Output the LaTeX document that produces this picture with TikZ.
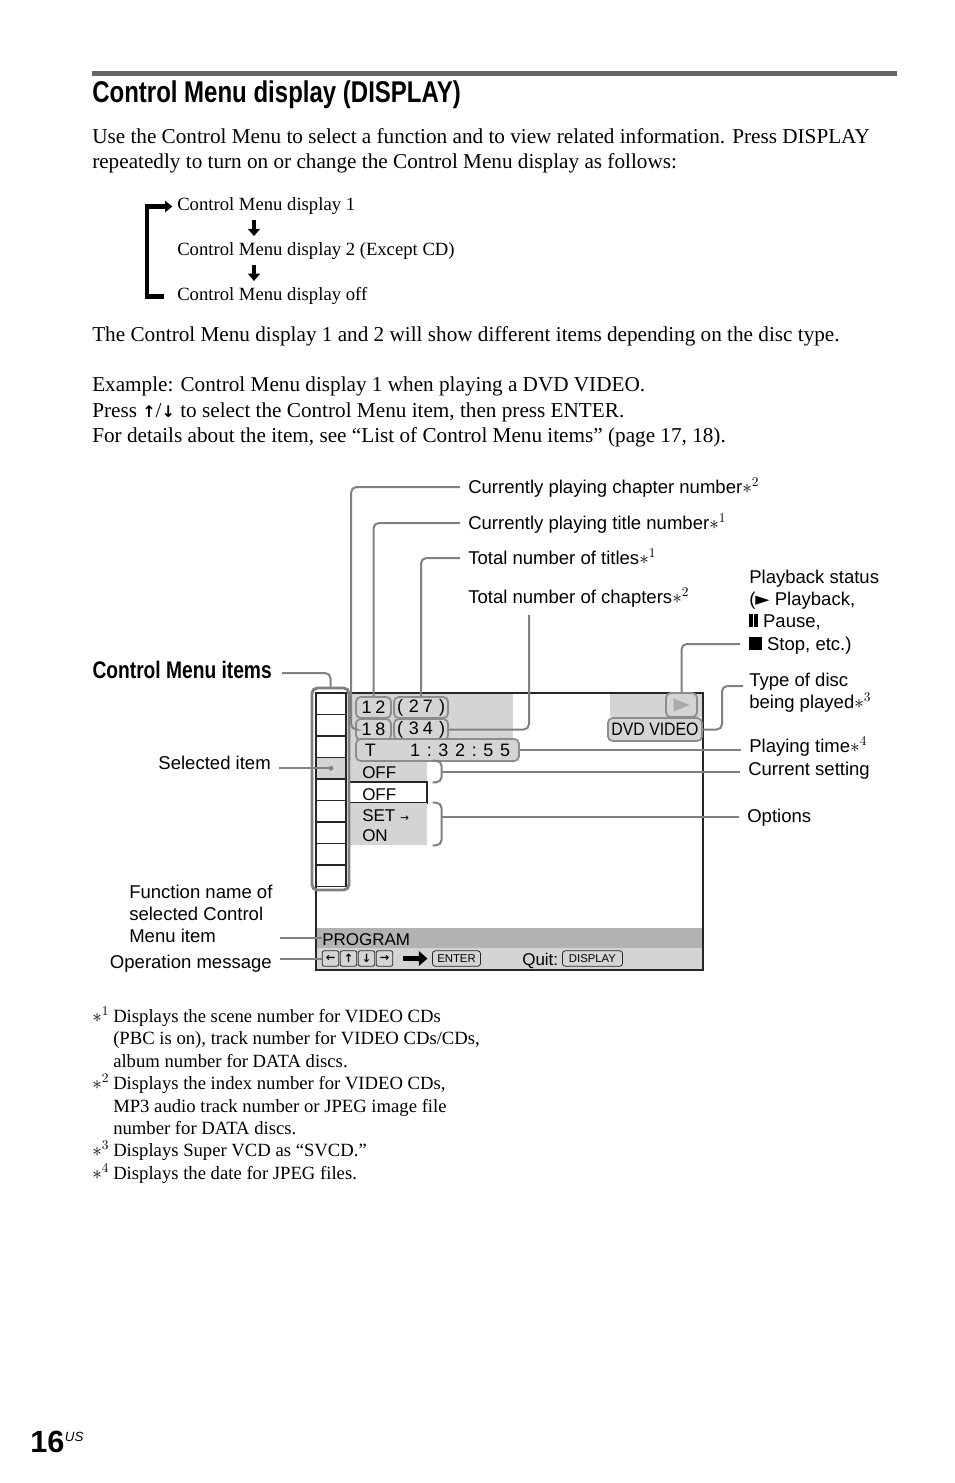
\documentclass[tikz,border=0pt]{standalone}
\usepackage{fontspec}
\setmainfont{Liberation Serif}
\newfontfamily\sansfam{Liberation Sans}
\newfontfamily\condbold[FakeStretch=0.8]{Liberation Sans Bold}
\newfontfamily\symfam{DejaVu Sans}
\usetikzlibrary{arrows.meta, positioning, fit}

\definecolor{rulegray}{RGB}{100,100,100}
\definecolor{linegray}{RGB}{128,128,128}
\definecolor{lcdgray}{RGB}{212,212,212}
\definecolor{bargray}{RGB}{178,178,178}
\definecolor{boxedge}{RGB}{140,140,140}
\definecolor{trigray}{RGB}{170,170,170}

\tikzset{
    heading/.style={anchor=base west, inner sep=0pt, font=\condbold\fontsize{22.5}{26}\selectfont},
    itemhead/.style={anchor=base east, inner sep=0pt, font=\condbold\fontsize{18}{21}\selectfont},
    bodytext/.style={anchor=base west, inner sep=0pt, font=\fontsize{15.9}{19}\selectfont},
    steptext/.style={anchor=base west, inner sep=0pt, font=\fontsize{14}{17}\selectfont},
    notetext/.style={anchor=base west, inner sep=0pt, font=\fontsize{14}{17}\selectfont},
    labeltext/.style={anchor=base west, inner sep=0pt, font=\sansfam\fontsize{13.9}{16.5}\selectfont},
    lcdtext/.style={anchor=base west, inner sep=0pt, font=\sansfam\fontsize{12.75}{15}\selectfont},
    readtext/.style={anchor=center, inner sep=0pt, font=\sansfam\fontsize{13.5}{15}\selectfont},
    lcdarea/.style={fill=lcdgray, draw=none, inner sep=0pt},
    bararea/.style={fill=bargray, draw=none, inner sep=0pt},
    setbox/.style={fill=white, draw=black!85, line width=0.8pt, inner sep=0pt},
    screenframe/.style={draw=black!85, line width=1.5pt, inner sep=0pt},
    cellline/.style={draw=black!85, line width=0.8pt},
    colframe/.style={draw=linegray, line width=2.2pt, rounded corners=4pt, inner sep=0pt},
    readout/.style={draw=boxedge, fill=lcdgray, line width=1.3pt, rounded corners=3.5pt, inner sep=0pt},
    keycap/.style={draw=black!85, line width=0.6pt, rounded corners=1.5pt, inner sep=0pt, minimum width=12.5pt, minimum height=11.5pt, font=\symfam\bfseries\fontsize{8.5}{8.5}\selectfont},
    keywide/.style={draw=black!85, line width=0.6pt, rounded corners=2pt, inner sep=0pt, minimum height=11.5pt, font=\sansfam\fontsize{8.5}{9}\selectfont},
    seldot/.style={circle, fill=linegray, inner sep=0pt, minimum size=3.5pt},
    callout/.style={draw=linegray, line width=1.5pt, rounded corners=4pt},
    flowarrow/.style={line width=3pt, -{Triangle[length=5.5pt, width=9pt]}, shorten <=3.5pt, shorten >=5pt},
    cycleline/.style={line width=3.6pt, -{Triangle[length=5.5pt, width=8.5pt]}, shorten >=3.5pt},
    bigarrow/.style={line width=3.2pt, -{Triangle[length=6.5pt, width=11pt]}, shorten <=7.5pt, shorten >=3.5pt},
}

\begin{document}
\begin{tikzpicture}[x=0.75pt, y=-0.75pt]
\useasboundingbox (0,0) rectangle (954,1483);

% heading
\fill[rulegray] (92,71) rectangle (897,76);
\node[heading] (title) at (92,103) {Control Menu display (DISPLAY)};

% intro text
\node[bodytext] (intro1) at (92,144) {Use the Control Menu to select a function and to view related information. Press DISPLAY};
\node[bodytext] (intro2) at (92,169) {repeatedly to turn on or change the Control Menu display as follows:};

% display cycle
\node[steptext] (d1) at (177,211) {Control Menu display 1};
\node[steptext] (d2) at (177,256) {Control Menu display 2 (Except CD)};
\node[steptext] (dOff) at (177,301) {Control Menu display off};
\coordinate (arrX) at (254,0);
\draw[flowarrow] (d1.south -| arrX) -- (d2.north -| arrX);
\draw[flowarrow] (d2.south -| arrX) -- (dOff.north -| arrX);
\draw[cycleline] (dOff.west) ++(-13,0) -- ++(-17,0) |- (d1.west);

% text
\node[bodytext] (discnote) at (92,342) {The Control Menu display 1 and 2 will show different items depending on the disc type.};
\node[bodytext] (ex1) at (92,392) {Example: Control Menu display 1 when playing a DVD VIDEO.};
\node[bodytext] (ex2) at (92,417) {Press {\symfam\bfseries\fontsize{12}{12}\selectfont ↑}/{\symfam\bfseries\fontsize{12}{12}\selectfont ↓} to select the Control Menu item, then press ENTER.};
\node[bodytext] (ex3) at (92,442) {For details about the item, see “List of Control Menu items” (page 17, 18).};

% screen areas
\node[lcdarea, fit={(350,693)(513,761)}] (topArea) {};
\node[lcdarea, fit={(350,761)(427,782)}] (curRow) {};
\node[setbox, fit={(349,782)(427,803)}] (setRow) {};
\node[lcdarea, fit={(350,803)(427,845)}] (optRow) {};
\node[lcdarea, fit={(610,693)(703,717)}] (rightArea) {};
\node[bararea, fit={(316,928)(703,948)}] (progBar) {};
\node[lcdarea, fit={(316,948)(703,970)}] (opBar) {};
\node[screenframe, fit={(316,693)(703,970)}] (screen) {};

% control menu item column
\node[lcdarea, fit={(316,757.5)(346,779)}] (selCell) {};
\foreach \i in {0,...,8}
    \draw[cellline] (316,{693+21.5*\i}) rectangle ++(30,21.5);
\node[seldot] (selDot) at (selCell.center) {};
\node[colframe, fit={(312,688)(349,890)}] (itemCol) {};

% readouts
\node[readout, fit={(356,697)(391,718)}] (rdTitleNo) {};
\node[readout, fit={(394,697)(448,718)}] (rdTitleTot) {};
\node[readout, fit={(356,719)(391,740)}] (rdChapNo) {};
\node[readout, fit={(394,719)(448,740)}] (rdChapTot) {};
\node[readout, fit={(356,739)(519,761)}] (rdTime) {};
\node[readout, fit={(666,693)(697,717)}] (rdPlay) {};
\node[readout, fit={(608,718)(702,741)}] (rdDisc) {};
\node[readtext] (txtTitleNo) at (rdTitleNo.center) {\makebox[18pt]{1\hfill 2}};
\node[readtext] (txtTitleTot) at (rdTitleTot.center) {\makebox[36pt]{(\hfill 2\hspace{3pt}7\hfill)}};
\node[readtext] (txtChapNo) at (rdChapNo.center) {\makebox[18pt]{1\hfill 8}};
\node[readtext] (txtChapTot) at (rdChapTot.center) {\makebox[36pt]{(\hfill 3\hspace{3pt}4\hfill)}};
\node[readtext] (txtTime) at (rdTime.center) {\makebox[109pt]{T\hfill 1\hspace{5pt}:\hspace{5pt}3\hspace{5pt}2\hspace{5pt}:\hspace{5pt}5\hspace{5pt}5}};
\node[readtext] (txtDisc) at (rdDisc.center) {\scalebox{0.88}[1]{DVD VIDEO}};
\fill[trigray] (rdPlay.center) ++(-8,-6.5) -- ++(0,13) -- ++(16,-6.5) -- cycle;

% settings
\node[lcdtext] (curTxt) at (362,778) {OFF};
\node[lcdtext] (setTxt) at (362,800) {OFF};
\node[lcdtext] (optSet) at (362,821) {SET {\symfam\fontsize{8}{8}\selectfont →}};
\node[lcdtext] (optOn) at (362,841) {ON};

% bottom bars
\node[lcdtext] (progTxt) at (322,945) {PROGRAM};
\foreach \s [count=\k] in {←,↑,↓,→}
    \node[keycap] (btn\k) at ({322+18*(\k-1)+8.5},958.5) {\s};
\node[keywide, minimum width=36pt] (enterKey) at (456.5,958.5) {ENTER};
\draw[bigarrow] (btn4.east) -- (enterKey.west);
\node[lcdtext] (quitTxt) at (522,965) {Quit:};
\node[keywide, minimum width=45pt] (dispKey) at (592.5,958.5) {DISPLAY};

% labels on the right
\node[labeltext] (lChapNo) at (468,493) {Currently playing chapter number$\ast^{2}$};
\node[labeltext] (lTitleNo) at (468,529) {Currently playing title number$\ast^{1}$};
\node[labeltext] (lTitleTot) at (468,564) {Total number of titles$\ast^{1}$};
\node[labeltext] (lChapTot) at (468,603) {Total number of chapters$\ast^{2}$};
\node[labeltext] (lStatus) at (749,583) {Playback status};
\node[labeltext] (lPlay) at (749,605) {({\symfam ►} Playback,};
\node[labeltext] (lPause) at (749,627) {\rule{2.6pt}{9.5pt}\hspace{1.3pt}\rule{2.6pt}{9.5pt} Pause,};
\node[labeltext] (lStop) at (749,650) {\rule{9.5pt}{9.5pt} Stop, etc.)};
\node[labeltext] (lDisc) at (749,686) {Type of disc};
\node[labeltext] (lDisc2) at (749,708) {being played$\ast^{3}$};
\node[labeltext] (lTime) at (749,752) {Playing time$\ast^{4}$};
\node[labeltext] (lCurrent) at (748,775) {Current setting};
\node[labeltext] (lOptions) at (747,822) {Options};

% labels on the left
\node[itemhead] (lItems) at (272,678) {Control Menu items};
\node[labeltext, anchor=base east] (lSelected) at (271,769) {Selected item};
\node[labeltext] (lFunc1) at (129,898) {Function name of};
\node[labeltext] (lFunc2) at (129,920) {selected Control};
\node[labeltext] (lFunc3) at (129,942) {Menu item};
\node[labeltext, anchor=base east] (lOper) at (272,968) {Operation message};

% callouts
\draw[callout] (lChapNo.base west) ++(-8,-6) -| ([xshift=-3pt]rdChapNo.west) -- (rdChapNo.west);
\draw[callout] (lTitleNo.base west) ++(-8,-6) -| (rdTitleNo.north);
\draw[callout] (lTitleTot.base west) ++(-8,-6) -| (rdTitleTot.north);
\draw[callout] (lChapTot.base west) ++(61,12) |- (rdChapTot.east);
\draw[callout] (lStop.base west) ++(-9,-6) -| (rdPlay.north);
\draw[callout] (lDisc.base west) ++(-6,0) -- ++(-21,0) |- (rdDisc.east);
\draw[callout, shorten >=6pt] (rdTime.east) -- (rdTime.east -| lTime.west);
\draw[callout] ([xshift=4pt]curRow.north east) -- ++(9,0) |- ([xshift=4pt]curRow.south east);
\draw[callout, shorten >=6pt] (curRow.east) ++(14,0) -- (curRow.east -| lCurrent.west);
\draw[callout] ([xshift=4pt]optRow.north east) -- ++(9,0) |- ([xshift=4pt]optRow.south east);
\draw[callout] (lOptions.west -| optRow.east) ++(14,0) -- ([xshift=-6pt]lOptions.west);
\draw[callout] (lItems.base east) ++(10,-5) -| (itemCol.north);
\draw[callout] (selDot -| lSelected.east) ++(8,0) -- (selDot.center);
\draw[callout] (progBar.west -| lOper.east) ++(8,0) -- ([xshift=4.5pt]progBar.west);
\draw[callout] (opBar.west -| lOper.east) ++(8,0) -- ([xshift=4.5pt]opBar.west);

% footnotes
\node[notetext] (fm1) at (92,1022) {$\ast^{1}$};
\node[notetext] (fn1a) at (113,1022) {Displays the scene number for VIDEO CDs};
\node[notetext] (fn1b) at (113,1044) {(PBC is on), track number for VIDEO CDs/CDs,};
\node[notetext] (fn1c) at (113,1067) {album number for DATA discs.};
\node[notetext] (fm2) at (92,1089) {$\ast^{2}$};
\node[notetext] (fn2a) at (113,1089) {Displays the index number for VIDEO CDs,};
\node[notetext] (fn2b) at (113,1112) {MP3 audio track number or JPEG image file};
\node[notetext] (fn2c) at (113,1134) {number for DATA discs.};
\node[notetext] (fm3) at (92,1156) {$\ast^{3}$};
\node[notetext] (fn3) at (113,1156) {Displays Super VCD as “SVCD.”};
\node[notetext] (fm4) at (92,1179) {$\ast^{4}$};
\node[notetext] (fn4) at (113,1179) {Displays the date for JPEG files.};

% page number
\node[anchor=base west, inner sep=0pt, font=\sansfam\bfseries\fontsize{23}{26}\selectfont] (pg) at (30,1452) {16};
\node[anchor=base west, inner sep=0pt, font=\sansfam\itshape\fontsize{10}{11}\selectfont] (pgSup) at ([yshift=8pt]pg.base east) {US};

\end{tikzpicture}
\end{document}
